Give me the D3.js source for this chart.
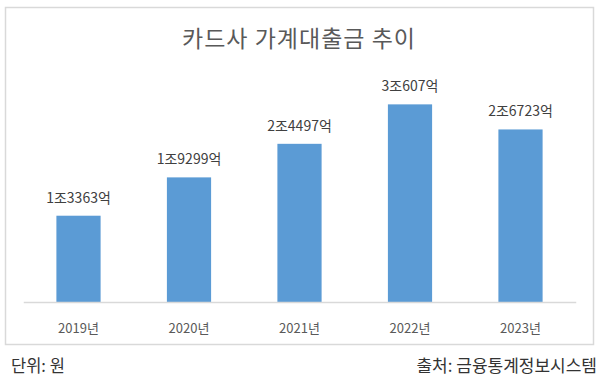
<!DOCTYPE html>
<html>
<head>
<meta charset="utf-8">
<script src="https://cdn.jsdelivr.net/npm/d3@7"></script>
<style>
  body { margin: 0; background: #fff; }
  text { font-family: "Malgun Gothic", "Noto Sans CJK KR", sans-serif; }
</style>
</head>
<body>
<script>
// 카드사 가계대출금 (단위: 억원)
var years = ["2019년", "2020년", "2021년", "2022년", "2023년"];
var loans = [13363, 19299, 24497, 30607, 26723];
var loanLabels = ["1조3363억", "1조9299억", "2조4497억", "3조607억", "2조6723억"];

var w = 600;
var h = 385;

var svg = d3.select("body")
  .append("svg")
  .attr("width", w)
  .attr("height", h);

// chart frame
svg.append("rect")
  .attr("x", 5.5)
  .attr("y", 7.5)
  .attr("width", 588)
  .attr("height", 337)
  .attr("fill", "#fff")
  .attr("stroke", "#d9d9d9")
  .attr("stroke-width", 1.5);

svg.append("text")
  .text("카드사 가계대출금 추이")
  .attr("x", 299)
  .attr("y", 47)
  .attr("font-size", "23px")
  .attr("letter-spacing", "1px")
  .attr("fill", "#595959")
  .attr("text-anchor", "middle");

var x = d3.scaleBand()
  .domain(years)
  .range([23.25, 575.75])
  .paddingInner(0.6)
  .paddingOuter(0.3);

var y = d3.scaleLinear()
  .domain([0, 35000])
  .range([302, 76]);

svg.selectAll("rect.bar")
  .data(loans)
  .enter()
  .append("rect")
  .attr("class", "bar")
  .attr("x", function(d, i) { return x(years[i]); })
  .attr("y", function(d) { return y(d); })
  .attr("width", x.bandwidth())
  .attr("height", function(d) { return y(0) - y(d); })
  .attr("fill", "#5b9bd5");

// baseline
var axis = svg.append("g")
  .attr("transform", "translate(0," + y(0) + ")")
  .call(d3.axisBottom(x).tickSize(0).tickPadding(22));
axis.select(".domain").attr("stroke", "#d9d9d9").attr("stroke-width", 1.5);
axis.selectAll("text")
  .attr("font-size", "13px")
  .attr("fill", "#595959")
  .style("font-family", "\"Malgun Gothic\", \"Noto Sans CJK KR\", sans-serif");

svg.selectAll("text.val")
  .data(loans)
  .enter()
  .append("text")
  .attr("class", "val")
  .text(function(d, i) { return loanLabels[i]; })
  .attr("x", function(d, i) { return x(years[i]) + x.bandwidth() / 2; })
  .attr("y", function(d) { return y(d) - 13; })
  .attr("font-size", "14px")
  .attr("fill", "#404040")
  .attr("text-anchor", "middle");

svg.append("text")
  .text("단위: 원")
  .attr("x", 11)
  .attr("y", 372)
  .attr("font-size", "16.5px")
  .attr("fill", "#333");

svg.append("text")
  .text("출처: 금융통계정보시스템")
  .attr("x", 597)
  .attr("y", 372)
  .attr("font-size", "17px")
  .attr("fill", "#333")
  .attr("text-anchor", "end");
</script>
</body>
</html>
